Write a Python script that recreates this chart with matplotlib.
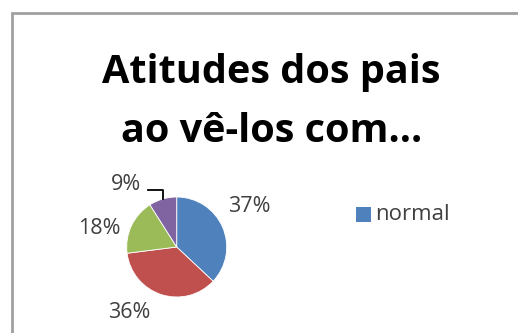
import matplotlib
matplotlib.use("Agg")
import matplotlib.pyplot as plt
from matplotlib.patches import Rectangle
import numpy as np

# Data
categories = ["normal", "assustado", "indiferente", "outro"]
values = [37, 36, 18, 9]
pct_labels = ["37%", "36%", "18%", "9%"]
colors = ["#4F81BD", "#C0504D", "#9BBB59", "#8064A2"]
title = "Atitudes dos pais\nao vê-los com..."

W, H = 518, 333
fig = plt.figure(figsize=(W / 100, H / 100), dpi=100)
fig.patch.set_facecolor("white")

# outer chart frame
fig.add_artist(Rectangle((12 / W, -0.05), 1.2, (H - 13) / H + 0.05, transform=fig.transFigure,
                         fill=False, edgecolor="#A0A0A0", linewidth=2.0))

fam = ["Open Sans", "DejaVu Sans"]
fig.text(271.5 / W, 1 - 102 / H, title, ha="center", va="center", fontsize=28.5,
         fontweight="bold", family=fam, linespacing=1.66, color="#000000")

cx, cy, r = 176.7, 247, 50
ax = fig.add_axes([(cx - r) / W, (H - cy - r) / H, 2 * r / W, 2 * r / H])
wedges, _ = ax.pie(values, colors=colors, startangle=90, counterclock=False,
                   wedgeprops=dict(linewidth=0.6, edgecolor="white"))
ax.set_xlim(-1, 1)
ax.set_ylim(-1, 1)
ax.set_aspect("equal")
ax.axis("off")

# label positions (layout, in pie radius units)
label_pos = [(1.456, 0.80), (-0.954, -1.32), (-1.544, 0.38), (-1.014, 1.24)]
for (x, y), t in zip(label_pos, pct_labels):
    ax.text(x, y, t, ha="center", va="center", fontsize=15.5, family=fam, color="#404040",
            clip_on=False)

# leader line for smallest slice
w = wedges[3]
mid = np.deg2rad((w.theta1 + w.theta2) / 2)
ex, ey = np.cos(mid), np.sin(mid)
ax.plot([ex, ex, -0.574], [ey, 1.14, 1.14], color="#000000", lw=1.3, clip_on=False)

# legend
fig.add_artist(Rectangle((356 / W, 1 - 222 / H), 15 / W, 15 / H, transform=fig.transFigure,
                         facecolor=colors[0], edgecolor="none"))
fig.text(375 / W, 1 - 214 / H, categories[0], ha="left", va="center", fontsize=16,
         family=fam, color="#404040")

fig.savefig("out.png", dpi=100)
